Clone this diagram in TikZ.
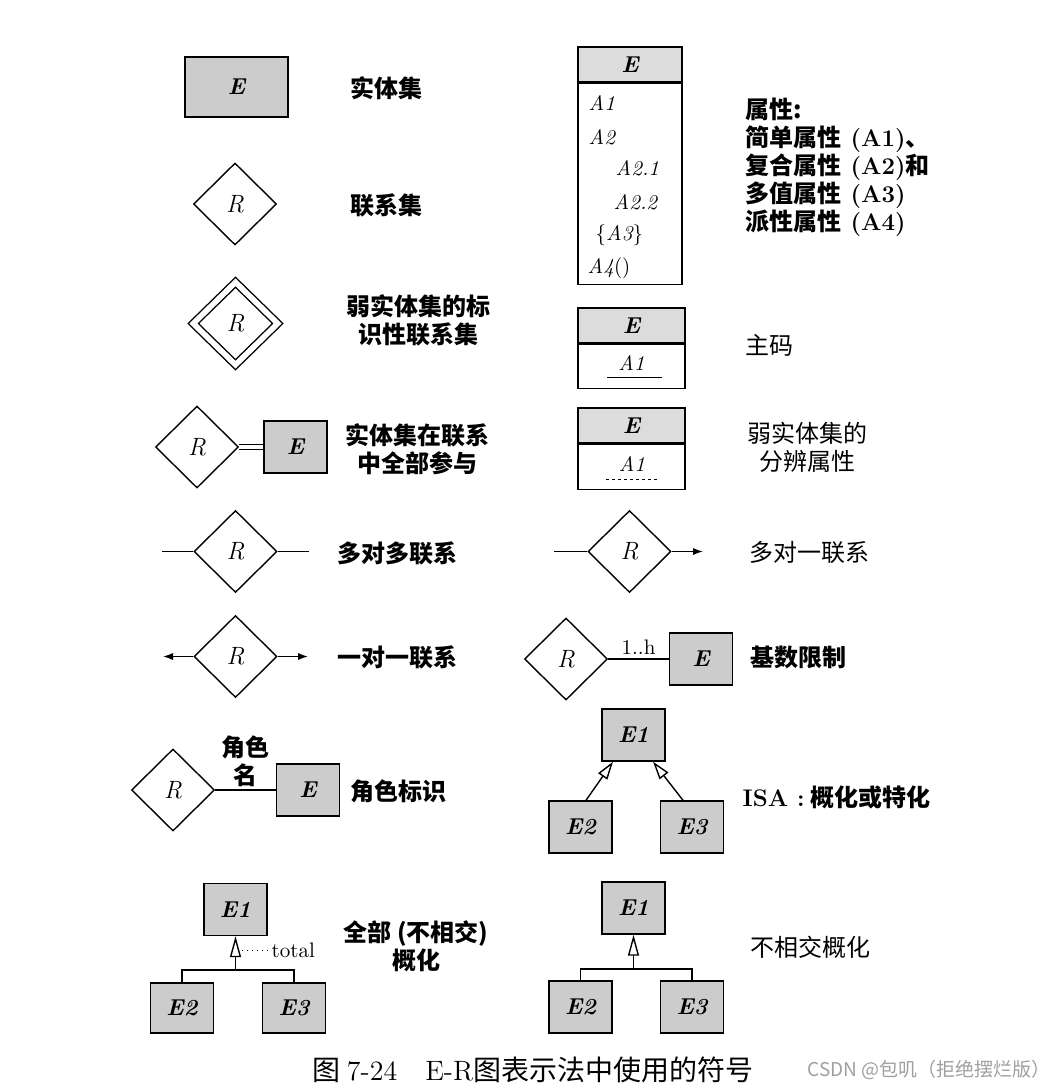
\documentclass[tikz,border=0pt]{standalone}
\usepackage{fontspec}
\usepackage{xcolor}
\usepackage{tikz}
\usetikzlibrary{arrows.meta,positioning,shapes.geometric,calc}

\newfontfamily\cjk{Noto Sans CJK SC}
\newcommand\latn[1]{{\rmfamily\bfseries #1}}
\newcommand\latr[1]{{\rmfamily #1}}
\definecolor{entfill}{RGB}{204,204,204}
\definecolor{hdrfill}{RGB}{220,220,220}

\begin{document}
\begin{tikzpicture}[
  x=0.5pt, y=-0.5pt,
  line width=0.7pt,
  every node/.style={inner sep=0pt},
  entity/.style={draw, fill=entfill, minimum width=31.5pt, minimum height=26pt, font=\fontsize{11.5}{14}\selectfont\bfseries\itshape},
  rel/.style={draw, diamond, fill=white, minimum width=41.5pt, minimum height=41pt, font=\fontsize{12.5}{14}\selectfont\itshape},
  head/.style={draw, fill=hdrfill, minimum width=53.5pt, minimum height=17.5pt, font=\fontsize{11.5}{14}\selectfont\bfseries\itshape},
  body/.style={draw, minimum width=53.5pt},
  attr/.style={font=\fontsize{10.5}{12}\selectfont\itshape},
  lbl/.style={font=\cjk\fontsize{12}{14}\selectfont\bfseries, align=center},
  lblr/.style={font=\cjk\fontsize{12}{14}\selectfont, align=center},
  arrow/.style={-{Latex[length=5pt,width=3.6pt]}},
  isa/.style={-{Triangle[open,length=10.5pt,width=5.5pt]}}
]
\path[use as bounding box] (0,0) rectangle (1062,1088);

% left column
\node[entity, minimum width=51.5pt, minimum height=30pt] (ent) at (236.5,87) {E};
\node[lbl, anchor=west] (entlbl) at (350,88) {实体集};

\node[rel] (rel) at (235,204) {R};
\node[lbl, anchor=west] (rellbl) at (350,205) {联系集};

\node[rel, double, double distance=2.8pt, minimum width=42.5pt, minimum height=41.5pt] (idrel) at (235.5,323.5) {R};
\node[lbl] (idlbl) at (418,320) {弱实体集的标\\识性联系集};

\node[rel] (tprel) at (197,447) {R};
\node[entity] (tpent) at (295.5,447) {E};
\draw[double, double distance=1.8pt] (tprel.east) -- (tpent.west);
\node[lbl] (tplbl) at (417,449) {实体集在联系\\中全部参与};

\node[rel] (mmrel) at (235.5,551.5) {R};
\coordinate (mmleft) at (162,551.5);
\coordinate (mmright) at (309,551.5);
\draw (mmleft) -- (mmrel.west);
\draw (mmrel.east) -- (mmright);
\node[lbl, anchor=west] (mmlbl) at (337,553) {多对多联系};

\node[rel] (oorel) at (235.5,656.5) {R};
\coordinate (ooleft) at (163,656.5);
\coordinate (ooright) at (308,656.5);
\draw[arrow] (oorel.west) -- (ooleft);
\draw[arrow] (oorel.east) -- (ooright);
\node[lbl, anchor=west] (oolbl) at (337,657) {一对一联系};

\node[rel] (rlrel) at (173,790) {R};
\node[entity] (rlent) at (308,790) {E};
\draw (rlrel.east) -- node[lbl, anchor=south, yshift=1.5pt] (rlname) {角色\\名} (rlent.west);
\node[lbl, anchor=west] (rllbl) at (350,791) {角色标识};

% total generalization
\node[entity] (tgsup) at (235.5,909.5) {E1};
\node[entity, minimum height=25pt] (tgsub1) at (182,1008) {E2};
\node[entity, minimum height=25pt] (tgsub2) at (294,1008) {E3};
\coordinate (tgbar) at (235.5,970);
\draw (tgsub1.north) |- (tgbar) -| (tgsub2.north);
\draw[isa] (tgbar) -- (tgsup.south);
\coordinate (tgdot) at (242,950);
\node[font=\fontsize{10.5}{12}\selectfont, anchor=west] (tgtotal) at (271,950) {total};
\draw[dotted, line width=0.5pt] (tgdot) -- (tgtotal.west);
\node[lbl] (tglbl) at (416,946) {全部 (不相交)\\概化};

% right column
\node[head, minimum width=52pt] (atthead) at (630,64.5) {E};
\node[body, minimum width=52pt, minimum height=100.5pt, below=0pt of atthead] (attbody) {};
\node[attr, anchor=west] (a1) at (588,103) {A1};
\node[attr, anchor=west] (a2) at (588,137) {A2};
\node[attr, anchor=west] (a21) at (615,168) {A2.1};
\node[attr, anchor=west] (a22) at (613,202) {A2.2};
\node[attr, anchor=west] (a3) at (595,235) {{\upshape\{}A3{\upshape\}}};
\node[attr, anchor=west] (a4) at (587,268) {A4{\upshape()}};
\node[lbl, align=left, anchor=west] (attlbl) at (745,167.5) {属性:\\简单属性\latn{ (A1)}、\\复合属性\latn{ (A2)}和\\多值属性\latn{ (A3)}\\派性属性\latn{ (A4)}};

\node[head] (pkhead) at (631.5,325.5) {E};
\node[body, minimum height=22pt, below=0pt of pkhead] (pkbody) {};
\node[attr] (pkattr) at (631.5,363) {A1};
\draw[line width=0.6pt] ($(pkbody.center)+(-24.5,11)$) -- ($(pkbody.center)+(30.5,11)$);
\node[lblr, anchor=west] (pklbl) at (745,345) {主码};

\node[head] (wkhead) at (631.5,425.5) {E};
\node[body, minimum height=22.5pt, below=0pt of wkhead] (wkbody) {};
\node[attr] (wkattr) at (632,464) {A1};
\draw[dash pattern=on 1.5pt off 1.5pt, line width=0.5pt] ($(wkbody.center)+(-25.5,12.5)$) -- ($(wkbody.center)+(25.5,12.5)$);
\node[lblr] (wklbl) at (807,447) {弱实体集的\\分辨属性};

\node[rel] (morel) at (629.5,551.5) {R};
\coordinate (moleft) at (554,551.5);
\coordinate (moright) at (703,551.5);
\draw (moleft) -- (morel.west);
\draw[arrow] (morel.east) -- (moright);
\node[lblr, anchor=west] (molbl) at (749,552) {多对一联系};

\node[rel] (cdrel) at (566,659) {R};
\node[entity] (cdent) at (701,659) {E};
\draw (cdrel.east) -- node[above=2pt, font=\fontsize{10.5}{12}\selectfont] (cdlim) {1..h} (cdent.west);
\node[lbl, anchor=west] (cdlbl) at (750,657) {基数限制};

% ISA
\node[entity] (isasup) at (633.5,735) {E1};
\node[entity] (isasub1) at (580.5,827) {E2};
\node[entity] (isasub2) at (692,827) {E3};
\draw[isa, -{Triangle[open,length=9pt,width=5.5pt]}] ($(isasub1.north)+(5.5,0)$) -- ($(isasup.south)+(-20.5,0)$);
\draw[isa, -{Triangle[open,length=9pt,width=5.5pt]}] ($(isasub2.north)+(-9,0)$) -- ($(isasup.south)+(19.5,0)$);
\node[lbl, anchor=west] (isalbl) at (742,797) {\latn{ISA :} 概化或特化};

% disjoint generalization
\node[entity] (djsup) at (633.5,908) {E1};
\node[entity] (djsub1) at (580.5,1007) {E2};
\node[entity] (djsub2) at (692,1007) {E3};
\coordinate (djbar) at (633.5,969);
\draw (djsub1.north) |- (djbar) -| (djsub2.north);
\draw[isa] (djbar) -- (djsup.south);
\node[lblr, anchor=west] (djlbl) at (750,947) {不相交概化};

% caption
\node[font=\cjk\fontsize{14}{16}\selectfont, anchor=west] (caption) at (312,1070) {图 \latr{7-24}\hspace{14pt}\latr{E-R}图表示法中使用的符号};
\node[font=\cjk\fontsize{9.5}{11}\selectfont, text=gray!75, anchor=west] (mark) at (807,1070) {CSDN @包叽（拒绝摆烂版）};

\end{tikzpicture}
\end{document}
